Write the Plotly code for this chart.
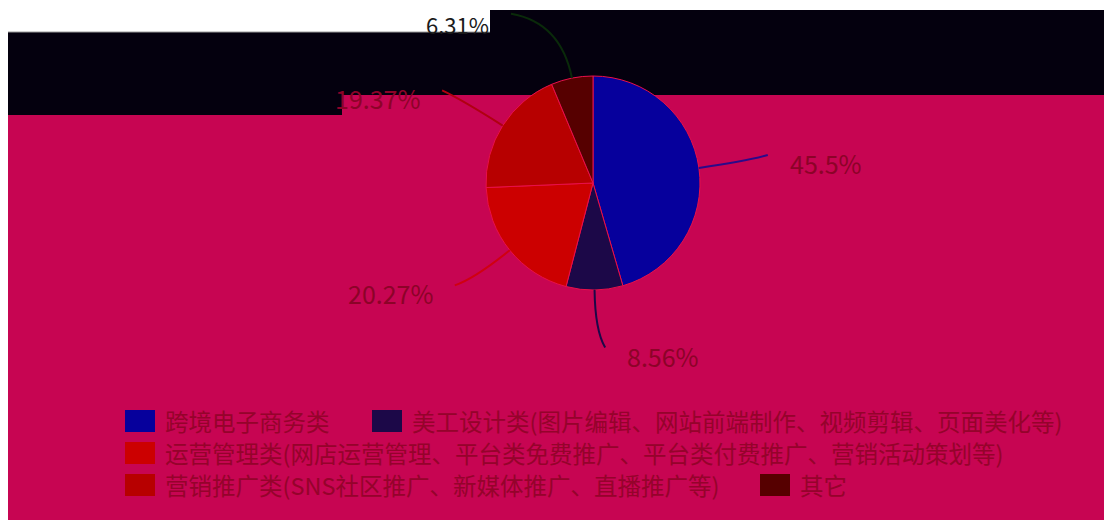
import math
import plotly.graph_objects as go

# ---------------- data ----------------
categories = [
    "跨境电子商务类",
    "美工设计类(图片编辑、网站前端制作、视频剪辑、页面美化等)",
    "运营管理类(网店运营管理、平台类免费推广、平台类付费推广、营销活动策划等)",
    "营销推广类(SNS社区推广、新媒体推广、直播推广等)",
    "其它",
]
shares = [45.5, 8.56, 20.27, 19.37, 6.31]
label_texts = ["45.5%", "8.56%", "20.27%", "19.37%", "6.31%"]

# ---------------- style / layout ----------------
OFF = 8                      # page body margin
W, H = 1104, 512             # figure size (page 1112x520 minus margin)
colors = ["#06009C", "#1C0848", "#CC0000", "#B70000", "#560000"]
BG = "#C70552"
DARK = "#04000E"
LABEL_COLOR = "#8C0328"
LEGEND_COLOR = "#95032B"
CX, CY, R = 593, 183, 107    # page pixel coordinates

# label-line geometry (layout only): end radius and angle shift from slice mid-angle
label_radius = [177, 165, 172, 177, 188]
label_shift = [-1.0, -3.4, 2.4, -0.9, -14.5]
label_dy = [8, 8, 8, 8, 10]
label_sizes = [25, 25, 25, 25, 22]
label_colors = [LABEL_COLOR, LABEL_COLOR, LABEL_COLOR, LABEL_COLOR, "#1A1A1A"]
line_colors = ["#2A0A8A", "#1C0848", "#D00010", "#B00010", "#0A2A0A"]

# legend rows (layout only)
legend_rows = [[0, 1], [2], [3, 4]]
legend_row_y = [421, 453, 485]
legend_item_x = {0: 125, 1: 372, 2: 125, 3: 125, 4: 760}
SW, SH = 30, 22


def px(x):
    return (x - OFF) / W


def py(y):
    return 1 - (y - OFF) / H


fig = go.Figure()
fig.add_trace(go.Pie(
    labels=categories,
    values=shares,
    sort=False,
    direction="clockwise",
    rotation=0,
    textinfo="none",
    marker=dict(colors=colors, line=dict(color="#E8104A", width=1)),
    domain=dict(x=[px(CX - R), px(CX + R)], y=[py(CY + R), py(CY - R)]),
    showlegend=False,
    hoverinfo="label+percent",
))

shapes = [
    dict(type="rect", xref="paper", yref="paper", x0=px(8), x1=px(1112), y0=py(520), y1=py(32),
         fillcolor=BG, line=dict(width=0), layer="below"),
    dict(type="rect", xref="paper", yref="paper", x0=px(8), x1=px(1112), y0=py(95), y1=py(32),
         fillcolor=DARK, line=dict(width=0), layer="below"),
    dict(type="rect", xref="paper", yref="paper", x0=px(490), x1=px(1112), y0=py(33), y1=py(10),
         fillcolor=DARK, line=dict(width=0), layer="below"),
    dict(type="rect", xref="paper", yref="paper", x0=px(8), x1=px(342), y0=py(115), y1=py(94),
         fillcolor=DARK, line=dict(width=0), layer="below"),
    dict(type="line", xref="paper", yref="paper", x0=px(8), x1=px(490), y0=py(32), y1=py(32),
         line=dict(color="#9A9A9A", width=1), layer="below"),
]
annotations = []

total = sum(shares)
cum = 0.0
for i, v in enumerate(shares):
    mid = (cum + v / 2) / total * 360.0
    cum += v
    a = math.radians(mid)
    sx, sy = CX + R * math.sin(a), CY - R * math.cos(a)
    rc = R + 0.7 * (label_radius[i] - R)
    cx_, cy_ = CX + rc * math.sin(a), CY - rc * math.cos(a)
    b = math.radians(mid + label_shift[i])
    ex, ey = CX + label_radius[i] * math.sin(b), CY - label_radius[i] * math.cos(b)
    path = "M {:.4f},{:.4f} Q {:.4f},{:.4f} {:.4f},{:.4f}".format(
        px(sx), py(sy), px(cx_), py(cy_), px(ex), py(ey))
    shapes.append(dict(type="path", xref="paper", yref="paper", path=path,
                       line=dict(color=line_colors[i], width=2)))
    right = math.sin(b) > 0
    annotations.append(dict(
        xref="paper", yref="paper",
        x=px(ex + (20 if right else -20)), y=py(ey + label_dy[i]),
        xanchor="left" if right else "right", yanchor="middle",
        text=label_texts[i], showarrow=False,
        font=dict(family="Noto Sans CJK SC", size=label_sizes[i], color=label_colors[i]),
    ))

# manual legend
for row, yc in zip(legend_rows, legend_row_y):
    for i in row:
        x0 = legend_item_x[i]
        shapes.append(dict(type="rect", xref="paper", yref="paper",
                           x0=px(x0), x1=px(x0 + SW), y0=py(yc + SH / 2), y1=py(yc - SH / 2),
                           fillcolor=colors[i], line=dict(width=0)))
        annotations.append(dict(
            xref="paper", yref="paper", x=px(x0 + SW + 8), y=py(yc),
            xanchor="left", yanchor="middle", text=categories[i], showarrow=False,
            font=dict(family="Noto Sans CJK SC", size=23.5, color=LEGEND_COLOR),
        ))

fig.update_layout(
    width=W, height=H,
    margin=dict(l=0, r=0, t=0, b=0),
    paper_bgcolor="white",
    plot_bgcolor="white",
    shapes=shapes,
    annotations=annotations,
    showlegend=False,
)

fig.write_html("out.html")
